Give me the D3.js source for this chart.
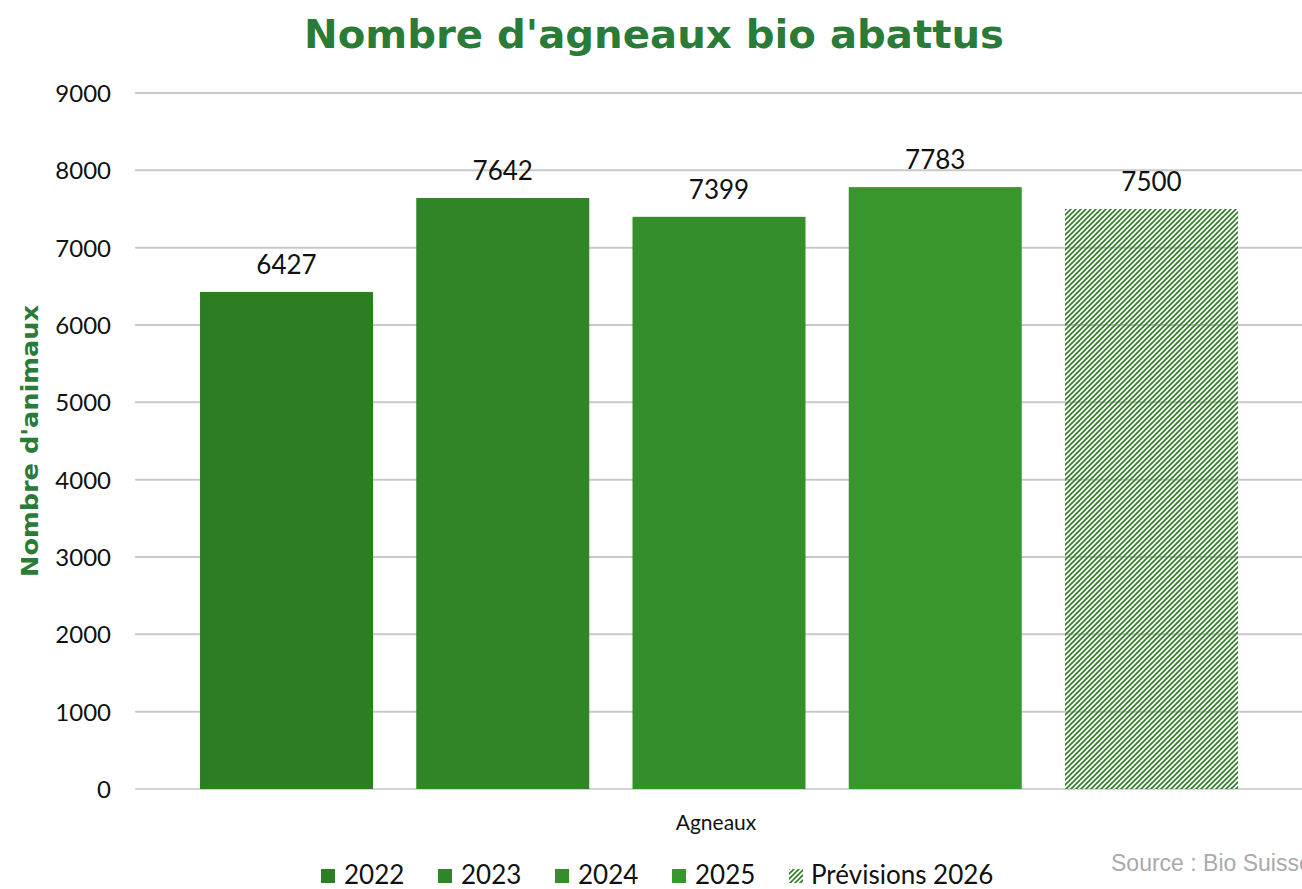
<!DOCTYPE html>
<html>
<head>
<meta charset="utf-8">
<script src="https://cdn.jsdelivr.net/npm/d3@7"></script>
<style>
  body { margin: 0; background: #fff; }
  svg { display: block; }
</style>
</head>
<body>
<div id="chart"></div>
<script>
// Data
var years = ["2022", "2023", "2024", "2025", "Prévisions 2026"];
var values = [6427, 7642, 7399, 7783, 7500];
var colors = ["#2d7d23", "#308526", "#348e29", "#38972c", "url(#hatch)"];
var yTicks = [0, 1000, 2000, 3000, 4000, 5000, 6000, 7000, 8000, 9000];

var width = 1302,
    height = 889;
var bodyFont = "'Century Gothic', 'URW Gothic', Lato, 'DejaVu Sans', sans-serif";
var headFont = "'DejaVu Sans', Lato, sans-serif";

var svg = d3.select("#chart")
    .append("svg")
    .attr("width", width)
    .attr("height", height);

// Hatch pattern for the forecast bar
var pat = svg.append("defs").append("pattern")
    .attr("id", "hatch")
    .attr("patternUnits", "userSpaceOnUse")
    .attr("width", 5)
    .attr("height", 5);
pat.append("path")
    .attr("d", "M-1,1 l2,-2 M0,5 l5,-5 M4,6 l2,-2")
    .attr("stroke", "#2d7d23")
    .attr("stroke-width", 1.6);

var y = d3.scaleLinear().domain([0, 9000]).range([789, 93]);
var x = d3.scaleBand().domain(years).range([178.4, 1259.6])
    .paddingInner(0.2).paddingOuter(0.1);

// Grid lines
svg.append("g")
    .selectAll("line")
    .data(yTicks)
    .enter()
    .append("line")
    .attr("x1", 135)
    .attr("x2", width)
    .attr("y1", function(d) { return y(d); })
    .attr("y2", function(d) { return y(d); })
    .attr("stroke", function(d) { return d === 0 ? "#d4d4d4" : "#c8c8c8"; })
    .attr("stroke-width", 2);

// Y axis labels
var yAxis = d3.axisLeft(y).tickValues(yTicks).tickFormat(d3.format("d"))
    .tickSize(0).tickPadding(0);
var gy = svg.append("g")
    .attr("transform", "translate(111,0)")
    .call(yAxis);
gy.select(".domain").remove();
gy.selectAll("text")
    .attr("font-family", bodyFont)
    .attr("font-size", 24)
    .attr("fill", "#111")
    .attr("dy", "0.35em");

// Bars
svg.append("g")
    .selectAll("rect")
    .data(values)
    .enter()
    .append("rect")
    .attr("x", function(d, i) { return x(years[i]); })
    .attr("y", function(d) { return y(d); })
    .attr("width", x.bandwidth())
    .attr("height", function(d) { return y(0) - y(d); })
    .attr("fill", function(d, i) { return colors[i]; });

// Value labels
svg.append("g")
    .selectAll("text")
    .data(values)
    .enter()
    .append("text")
    .attr("x", function(d, i) { return x(years[i]) + x.bandwidth() / 2; })
    .attr("y", function(d) { return y(d) - 18; })
    .attr("text-anchor", "middle")
    .attr("font-family", bodyFont)
    .attr("font-size", 26)
    .attr("fill", "#111")
    .text(function(d) { return d; });

// Title
svg.append("text")
    .attr("x", 654)
    .attr("y", 48)
    .attr("text-anchor", "middle")
    .attr("font-family", headFont)
    .attr("font-weight", "bold")
    .attr("font-size", 39)
    .attr("textLength", 700)
    .attr("lengthAdjust", "spacingAndGlyphs")
    .attr("fill", "#2a7b37")
    .text("Nombre d'agneaux bio abattus");

// Y axis title
svg.append("text")
    .attr("transform", "translate(38,441) rotate(-90)")
    .attr("text-anchor", "middle")
    .attr("font-family", headFont)
    .attr("font-weight", "bold")
    .attr("font-size", 23)
    .attr("textLength", 272)
    .attr("lengthAdjust", "spacingAndGlyphs")
    .attr("fill", "#2a7b37")
    .text("Nombre d'animaux");

// Category label
svg.append("text")
    .attr("x", 716)
    .attr("y", 830)
    .attr("text-anchor", "middle")
    .attr("font-family", bodyFont)
    .attr("font-size", 21)
    .attr("fill", "#111")
    .text("Agneaux");

// Legend
var legendX = [321, 438, 555, 672, 789];
var lg = svg.append("g")
    .selectAll("g")
    .data(years)
    .enter()
    .append("g")
    .attr("transform", function(d, i) { return "translate(" + legendX[i] + ",869)"; });
lg.append("rect")
    .attr("width", 14)
    .attr("height", 14)
    .attr("fill", function(d, i) { return colors[i]; });
lg.append("text")
    .attr("x", function(d, i) { return i === 4 ? 22 : 23; })
    .attr("y", 15)
    .attr("font-family", bodyFont)
    .attr("font-size", 26)
    .attr("fill", "#111")
    .text(function(d) { return d; });

// Source
svg.append("text")
    .attr("x", 1111)
    .attr("y", 871)
    .attr("font-family", "'Liberation Sans', Arial, sans-serif")
    .attr("font-size", 23)
    .attr("fill", "#aaaaaa")
    .text("Source : Bio Suisse");
</script>
</body>
</html>
